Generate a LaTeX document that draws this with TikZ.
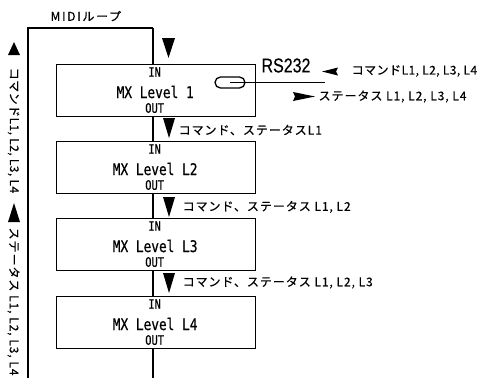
\documentclass[tikz,border=0pt]{standalone}
\usepackage{fontspec}
\newfontfamily\jpfont[LetterSpace=8,FakeBold=0.4]{Noto Sans CJK JP}
\newfontfamily\jptight[LetterSpace=4,FakeBold=0.4]{Noto Sans CJK JP}
\newfontfamily\jpwide[LetterSpace=14,FakeBold=0.4]{Noto Sans CJK JP}
\newfontfamily\condmono[FakeStretch=0.8,FakeBold=0.6]{DejaVu Sans Mono}
\newfontfamily\condsans[FakeStretch=0.8,FakeBold=0.3]{Liberation Sans}
\begin{document}
\begin{tikzpicture}[x=1bp,y=-1bp,line width=1.3bp,
  unitbox/.style={draw,minimum width=199bp,minimum height=52bp,inner sep=0,anchor=north west},
  smalltxt/.style={font=\condmono\fontsize{13bp}{15bp}\selectfont,inner sep=0},
  nametxt/.style={font=\condmono\fontsize{16bp}{18bp}\selectfont,inner sep=0},
  jplabel/.style={font=\jpfont\fontsize{12bp}{14bp}\selectfont,inner sep=0,anchor=west},
  jptightlabel/.style={jplabel,font=\jptight\fontsize{12bp}{14bp}\selectfont},
  vlabel/.style={rotate=-90},
  tri/.style={fill=black,draw=none}]
\useasboundingbox (0,0) rectangle (482,378);

% boxes
\node[unitbox] (b1) at (56,64) {};
\node[unitbox] (b2) at (56,141) {};
\node[unitbox] (b3) at (56,218) {};
\node[unitbox] (b4) at (56,296) {};

\foreach \b/\n in {b1/MX Level 1,b2/MX Level L2,b3/MX Level L3,b4/MX Level L4}{
  \node[smalltxt] (\b in) at ([xshift=-1.5bp,yshift=-8bp]\b.north) {IN};
  \node[nametxt] (\b name) at ([xshift=-1bp,yshift=-28bp]\b.north) {\n};
  \node[smalltxt] (\b out) at ([xshift=-1.5bp,yshift=-44bp]\b.north) {OUT};
}

% loop and chain
\coordinate (midx) at (153,0);
\coordinate (looptop) at (153,28);
\coordinate (loopcorner) at (28,28);
\coordinate (loopbot) at (28,378);
\coordinate (chainbot) at (153,378);
\draw (looptop -| midx) -- (b1.north -| midx);
\draw (looptop) -- (loopcorner) -- (loopbot);
\draw (b1.south -| midx) -- (b2.north -| midx);
\draw (b2.south -| midx) -- (b3.north -| midx);
\draw (b3.south -| midx) -- (b4.north -| midx);
\draw (b4.south -| midx) -- (chainbot);

% RS232 port
\node[draw,rounded corners=5.5bp,minimum width=30bp,minimum height=11bp,inner sep=0] (port) at (230,82.5) {};
\coordinate (portend) at (325,82.5);
\draw (port.center) -- (portend);
\node[font=\condsans\fontsize{20bp}{22bp}\selectfont,inner sep=0] (rs) at (286,65.5) {RS232};

% labels
\node[jplabel,font=\jpwide\fontsize{12bp}{14bp}\selectfont] (midi) at (50,16) {MIDIループ};
\node[jptightlabel] (cmdall) at (351,71) {コマンドL1, L2, L3, L4};
\node[jplabel] (statall) at (318,96.5) {ステータス L1, L2, L3, L4};
\node[jplabel] (c1) at (178,130) {コマンド、ステータスL1};
\node[jplabel] (c2) at (182,207) {コマンド、ステータス L1, L2};
\node[jplabel] (c3) at (182,282.5) {コマンド、ステータス L1, L2, L3};
\node[jptightlabel,vlabel] (vcmd) at (13.5,67) {コマンドL1, L2, L3, L4};
\node[jplabel,vlabel] (vstat) at (13.5,227) {ステータス L1, L2, L3, L4};

% arrowheads
\fill[tri] (162,38) -- (175,38) -- (168.5,58) -- cycle;
\fill[tri] (163,118) -- (175,118) -- (169,138) -- cycle;
\fill[tri] (163,197) -- (175,197) -- (169,217) -- cycle;
\fill[tri] (163,273) -- (175,273) -- (169,293) -- cycle;
\fill[tri] (322,71.5) -- (338,67.5) -- (336,71.5) -- (338,75.5) -- cycle;
\fill[tri] (315,96.5) -- (293,92) -- (295,96.5) -- (293,101) -- cycle;
\fill[tri] (14,42) -- (20,55) -- (8,55) -- cycle;
\fill[tri] (14,203) -- (20,222) -- (8,222) -- cycle;
\end{tikzpicture}
\end{document}
